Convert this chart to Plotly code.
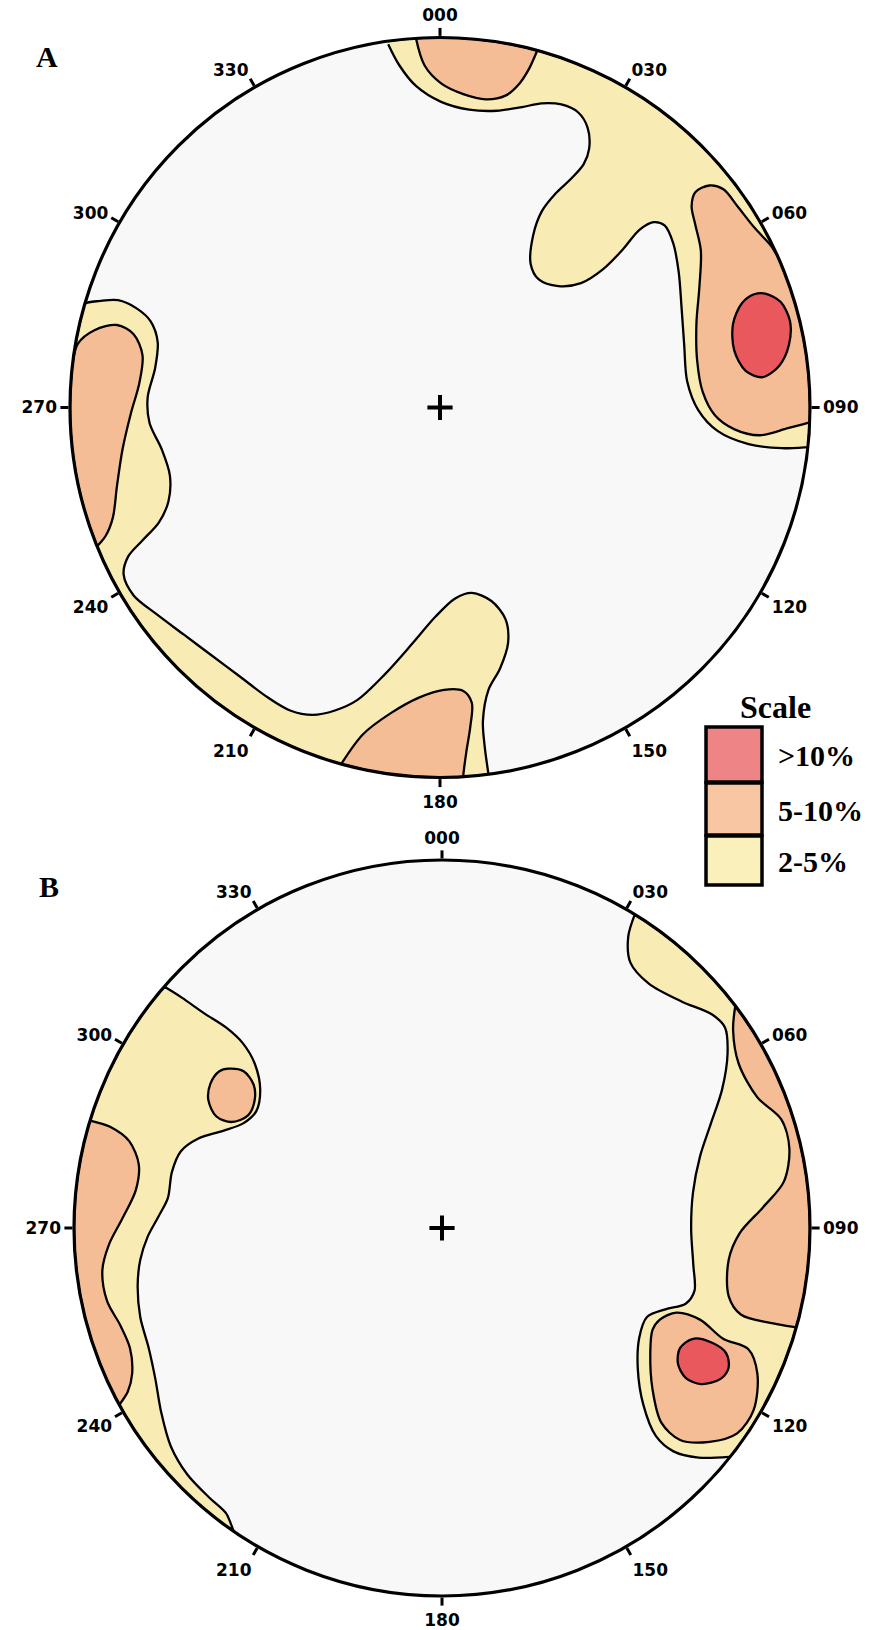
import numpy as np
import plotly.graph_objects as go

# ---------------- data ----------------
# Contours, in stereonet units
# (x = east, y = north, 1.0 = primitive circle radius).
AZ_TICKS = [0, 30, 60, 90, 120, 150, 180, 210, 240, 270, 300, 330]
AZ_LABELS = ["000", "030", "060", "090", "120", "150", "180", "210", "240", "270", "300", "330"]

LEVELS = ["2-5%", "5-10%", ">10%"]
LEVEL_COLORS = {"2-5%": "#F8ECB4", "5-10%": "#F5BD95", ">10%": "#E9585C"}
LEGEND_ORDER = [">10%", "5-10%", "2-5%"]
LEGEND_COLORS = ["#EE8486", "#F8C6A2", "#FAF0BC"]

# ---- Plot A ----
A_yellow_ne = [(-0.140, 0.982), (-0.110, 0.925), (-0.065, 0.869), (0.003, 0.826), (0.079, 0.805),
               (0.154, 0.802), (0.222, 0.812), (0.275, 0.822), (0.328, 0.819), (0.373, 0.798),
               (0.399, 0.756), (0.403, 0.699), (0.388, 0.657), (0.350, 0.614), (0.313, 0.579),
               (0.275, 0.530), (0.252, 0.466), (0.245, 0.388), (0.267, 0.346), (0.320, 0.328),
               (0.381, 0.336), (0.441, 0.374), (0.494, 0.427), (0.539, 0.480), (0.577, 0.501),
               (0.607, 0.492), (0.630, 0.445), (0.645, 0.367), (0.653, 0.268), (0.660, 0.169),
               (0.668, 0.071), (0.698, -0.007), (0.751, -0.064), (0.834, -0.099), (0.924, -0.110),
               (0.994, -0.107)]
A_yellow_ws = [(-0.960, 0.280), (-0.918, 0.288), (-0.870, 0.290), (-0.820, 0.268), (-0.782, 0.233),
               (-0.763, 0.177), (-0.770, 0.106), (-0.790, 0.028), (-0.785, -0.042), (-0.752, -0.113),
               (-0.730, -0.184), (-0.734, -0.254), (-0.760, -0.311), (-0.805, -0.360), (-0.843, -0.403),
               (-0.855, -0.452), (-0.828, -0.508), (-0.767, -0.558), (-0.692, -0.614), (-0.616, -0.671),
               (-0.541, -0.727), (-0.465, -0.784), (-0.405, -0.819), (-0.344, -0.831), (-0.284, -0.819),
               (-0.224, -0.791), (-0.148, -0.720), (-0.073, -0.636), (-0.012, -0.565), (0.041, -0.516),
               (0.086, -0.501), (0.139, -0.523), (0.177, -0.572), (0.184, -0.636), (0.162, -0.706),
               (0.131, -0.763), (0.116, -0.847), (0.121, -0.918), (0.131, -0.991)]
A_orange_n = [(-0.065, 0.998), (-0.042, 0.925), (0.003, 0.876), (0.063, 0.847), (0.124, 0.833),
              (0.177, 0.843), (0.215, 0.876), (0.242, 0.918), (0.263, 0.965)]
A_orange_e = [(0.999, -0.040), (0.940, -0.056), (0.864, -0.075), (0.796, -0.059), (0.743, -0.021),
              (0.710, 0.042), (0.695, 0.127), (0.693, 0.226), (0.701, 0.325), (0.705, 0.424),
              (0.690, 0.494), (0.680, 0.544), (0.690, 0.582), (0.728, 0.600), (0.766, 0.590),
              (0.804, 0.544), (0.849, 0.487), (0.894, 0.438), (0.911, 0.412)]
A_orange_w = [(-0.996, 0.092), (-0.979, 0.172), (-0.934, 0.209), (-0.873, 0.223), (-0.828, 0.198),
              (-0.804, 0.141), (-0.813, 0.064), (-0.835, -0.014), (-0.858, -0.113), (-0.873, -0.212),
              (-0.884, -0.297), (-0.903, -0.346), (-0.926, -0.374)]
A_orange_s = [(-0.266, -0.962), (-0.208, -0.883), (-0.133, -0.826), (-0.057, -0.784), (0.011, -0.763),
              (0.063, -0.766), (0.086, -0.798), (0.082, -0.862), (0.071, -0.932), (0.063, -0.995)]
A_red_e = [(0.879, 0.308), (0.921, 0.285), (0.946, 0.233), (0.943, 0.169), (0.917, 0.113),
           (0.872, 0.082), (0.826, 0.099), (0.795, 0.155), (0.792, 0.226), (0.816, 0.282),
           (0.849, 0.306)]

# ---- Plot B ----
B_yellow_w = [(-0.755, 0.656), (-0.707, 0.626), (-0.647, 0.584), (-0.587, 0.545), (-0.542, 0.503),
              (-0.509, 0.447), (-0.494, 0.376), (-0.505, 0.317), (-0.539, 0.285), (-0.595, 0.264),
              (-0.662, 0.243), (-0.710, 0.208), (-0.734, 0.152), (-0.745, 0.081), (-0.770, 0.032),
              (-0.800, -0.024), (-0.820, -0.087), (-0.827, -0.157), (-0.820, -0.242), (-0.797, -0.326),
              (-0.779, -0.410), (-0.763, -0.501), (-0.737, -0.593), (-0.692, -0.670), (-0.632, -0.733),
              (-0.587, -0.775), (-0.565, -0.826)]
B_orange_nw = [(-0.580, 0.433), (-0.539, 0.426), (-0.512, 0.390), (-0.509, 0.348), (-0.527, 0.306),
               (-0.572, 0.288), (-0.613, 0.303), (-0.635, 0.348), (-0.629, 0.393), (-0.605, 0.426)]
B_orange_w = [(-0.956, 0.292), (-0.902, 0.275), (-0.850, 0.236), (-0.824, 0.173), (-0.832, 0.103),
              (-0.869, 0.025), (-0.905, -0.045), (-0.923, -0.115), (-0.910, -0.199), (-0.875, -0.263),
              (-0.848, -0.326), (-0.842, -0.396), (-0.854, -0.445), (-0.877, -0.481)]
B_yellow_e = [(0.524, 0.852), (0.506, 0.791), (0.512, 0.721), (0.562, 0.664), (0.652, 0.615),
              (0.734, 0.580), (0.769, 0.545), (0.776, 0.475), (0.761, 0.376), (0.731, 0.285),
              (0.701, 0.194), (0.682, 0.096), (0.677, -0.003), (0.683, -0.101), (0.686, -0.171),
              (0.662, -0.206), (0.607, -0.221), (0.557, -0.242), (0.536, -0.298), (0.532, -0.382),
              (0.547, -0.480), (0.581, -0.565), (0.629, -0.607), (0.697, -0.624), (0.783, -0.622)]
B_orange_e = [(0.797, 0.604), (0.791, 0.538), (0.806, 0.447), (0.857, 0.355), (0.922, 0.295),
              (0.944, 0.215), (0.929, 0.126), (0.872, 0.056), (0.809, -0.014), (0.779, -0.087),
              (0.779, -0.185), (0.812, -0.235), (0.892, -0.258), (0.963, -0.270)]
B_orange_se = [(0.592, -0.249), (0.637, -0.230), (0.701, -0.249), (0.764, -0.301), (0.832, -0.329),
               (0.857, -0.396), (0.847, -0.494), (0.802, -0.558), (0.727, -0.581), (0.647, -0.576),
               (0.596, -0.529), (0.572, -0.438), (0.566, -0.340), (0.572, -0.277)]
B_red_se = [(0.682, -0.301), (0.734, -0.312), (0.772, -0.340), (0.779, -0.379), (0.757, -0.410),
            (0.704, -0.424), (0.662, -0.407), (0.641, -0.368), (0.647, -0.326)]

# (points, level, touches primitive circle?)
PLOT_A = [(A_yellow_ne, "2-5%", True), (A_yellow_ws, "2-5%", True),
          (A_orange_n, "5-10%", True), (A_orange_e, "5-10%", True),
          (A_orange_w, "5-10%", True), (A_orange_s, "5-10%", True),
          (A_red_e, ">10%", False)]
PLOT_B = [(B_yellow_w, "2-5%", True), (B_yellow_e, "2-5%", True),
          (B_orange_nw, "5-10%", False), (B_orange_w, "5-10%", True),
          (B_orange_e, "5-10%", True), (B_orange_se, "5-10%", False),
          (B_red_se, ">10%", False)]


# ---------------- helpers ----------------
def to_polar(pts):
    a = np.array(pts, dtype=float)
    r = np.hypot(a[:, 0], a[:, 1])
    th = np.degrees(np.arctan2(a[:, 0], a[:, 1])) % 360
    return r, th


def region(pts, on_rim):
    r, th = to_polar(pts)
    r, th = list(r), list(th)
    if on_rim:
        a_end, a_start = th[-1], th[0]
        d = ((a_start - a_end + 180) % 360) - 180
        n = max(3, int(abs(d) / 2) + 2)
        arc = a_end + np.linspace(0, d, n)
        th += list(arc % 360)
        r += [1.0] * n
    else:
        th += th[:1]
        r += r[:1]
    return r, th


W, H = 877, 1630


def px(X):
    return X / W


def py(Y):
    return 1 - Y / H


CIRCLES = {"polar": (440, 407.5, 370), "polar2": (442, 1228, 368)}


def domain(cx, cy, R):
    return dict(x=[px(cx - R), px(cx + R)], y=[py(cy + R), py(cy - R)])


fig = go.Figure()

for subplot, regions in (("polar", PLOT_A), ("polar2", PLOT_B)):
    for order in LEVELS:
        for pts, lev, rim in regions:
            if lev != order:
                continue
            r, th = region(pts, rim)
            fig.add_trace(go.Scatterpolar(
                r=r, theta=th, mode="lines", fill="toself",
                fillcolor=LEVEL_COLORS[lev],
                line=dict(color="black", width=2.3, shape="spline", smoothing=0.9),
                cliponaxis=True, hoverinfo="skip", showlegend=False, subplot=subplot))
    fig.add_trace(go.Scatterpolar(
        r=[0], theta=[0], mode="markers",
        marker=dict(symbol="cross-thin", size=18, line=dict(color="black", width=4)),
        cliponaxis=True, hoverinfo="skip", showlegend=False, subplot=subplot))

polar_common = dict(
    bgcolor="#F8F8F8",
    radialaxis=dict(visible=False, range=[0, 1], showgrid=False),
    angularaxis=dict(direction="clockwise", rotation=90, tickmode="array",
                     tickvals=AZ_TICKS, ticktext=AZ_LABELS, ticks="outside",
                     ticklen=8, tickwidth=2.5, tickcolor="black",
                     showline=True, linecolor="black", linewidth=3.2, showgrid=False,
                     tickfont=dict(family="DejaVu Sans", size=17, color="black", weight="bold")),
)

fig.update_layout(
    width=W, height=H, margin=dict(l=0, r=0, t=0, b=0),
    paper_bgcolor="white", showlegend=False,
    polar=dict(domain=domain(*CIRCLES["polar"]), **polar_common),
    polar2=dict(domain=domain(*CIRCLES["polar2"]), **polar_common),
)

serif = dict(family="Liberation Serif", color="black", weight="bold")


def label(X, Y, text, size, xanchor="center"):
    fig.add_annotation(x=px(X), y=py(Y), xref="paper", yref="paper", text=text,
                       xanchor=xanchor, yanchor="middle", showarrow=False,
                       font=dict(size=size, **serif))


label(46.7, 56, "A", 30)
label(49, 886, "B", 30)

# legend ("Scale")
label(775, 707, "Scale", 32)
box_tops = [727, 783, 836]
box_bots = [782, 835, 885]
for lab, col, t, b in zip(LEGEND_ORDER, LEGEND_COLORS, box_tops, box_bots):
    fig.add_shape(type="rect", xref="paper", yref="paper",
                  x0=px(706), x1=px(762), y0=py(b), y1=py(t),
                  fillcolor=col, line=dict(color="black", width=3.5))
    label(776, (t + b) / 2 + 1, lab, 30, xanchor="left")

# the page body otherwise keeps the browser's default 8px margin around the plot
fig.write_html("out.html", config={"displayModeBar": False},
               post_script="document.body.style.margin='0px';")
